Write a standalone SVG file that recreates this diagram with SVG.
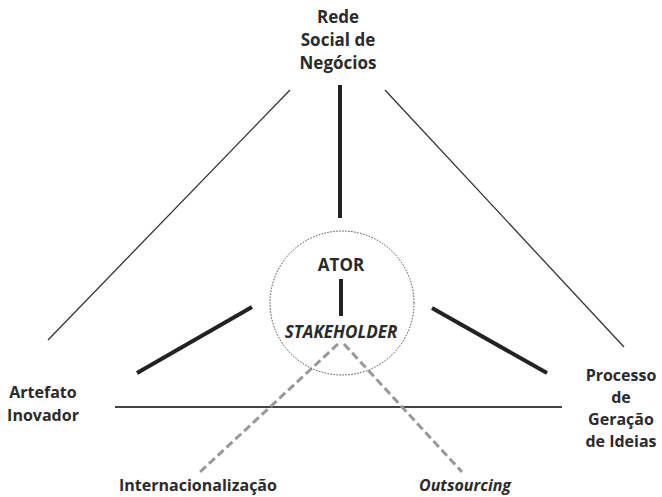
<svg xmlns="http://www.w3.org/2000/svg" width="662" height="497" viewBox="0 0 662 497">
<style>
.t{font-family:"Open Sans","Liberation Sans",sans-serif;font-weight:bold;font-size:16px;fill:#2b2b2b;text-anchor:middle}
.b{font-size:17px}
.i{font-style:italic}
.thin{stroke:#333;stroke-width:1.3;fill:none}
.thick{stroke:#222;stroke-width:4;fill:none}
.dash{stroke:#999;stroke-width:3;stroke-dasharray:8 4;fill:none}
</style>
<rect width="662" height="497" fill="#fff"/>
<g id="connectors">
<line class="thin" x1="290" y1="90" x2="48" y2="340"/>
<line class="thin" x1="385" y1="90" x2="624" y2="347"/>
<line class="thick" x1="340" y1="85" x2="340" y2="218"/>
<line class="thick" x1="341" y1="279" x2="341" y2="316"/>
<line class="thick" x1="137" y1="373" x2="252" y2="307"/>
<line class="thick" x1="432" y1="308" x2="547" y2="373"/>
<line stroke="#444" stroke-width="2" x1="115" y1="407" x2="562" y2="407"/>
<line class="dash" x1="338" y1="344" x2="200" y2="472"/>
<line class="dash" x1="344" y1="344" x2="462" y2="472"/>
</g>
<g id="rede"><text class="t b" x="338" y="23">Rede</text><text class="t b" x="338" y="46">Social de</text><text class="t b" x="338" y="69">Negócios</text></g>
<g id="ator"><circle cx="342" cy="303" r="72" fill="none" stroke="#444" stroke-width="1" stroke-dasharray="1.5 1.5"/><text class="t b" x="341" y="271">ATOR</text><text class="t b i" x="341" y="338">STAKEHOLDER</text></g>
<g id="artefato"><text class="t" x="43" y="398">Artefato</text><text class="t" x="43" y="421">Inovador</text></g>
<g id="processo"><text class="t" x="621" y="381">Processo</text><text class="t" x="621" y="403">de</text><text class="t" x="621" y="425">Geração</text><text class="t" x="621" y="447">de Ideias</text></g>
<g id="intern"><text class="t" x="198" y="491">Internacionalização</text></g>
<g id="outs"><text class="t i" x="465" y="491">Outsourcing</text></g>
</svg>
